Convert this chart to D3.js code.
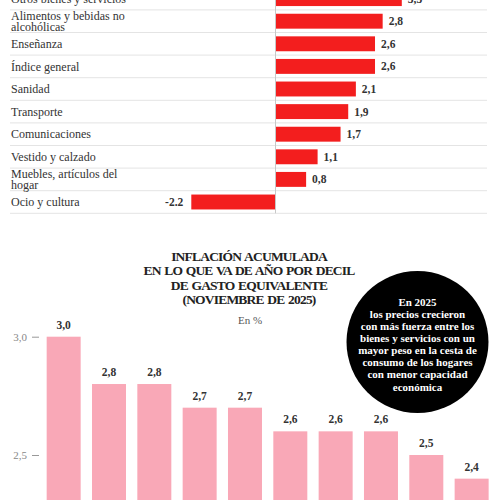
<!DOCTYPE html>
<meta charset="utf-8">
<script src="https://d3js.org/d3.v7.min.js"></script>
<style>
  body { margin: 0; background: #fff; }
  svg { display: block; font-family: "Liberation Serif", serif; }
</style>
<div id="chart"></div>
<script>

    // top chart: inflation by group (%)
    const groups = ["Otros bienes y servicios", "Alimentos y bebidas no\nalcohólicas", "Enseñanza", "Índice general",
                    "Sanidad", "Transporte", "Comunicaciones", "Vestido y calzado",
                    "Muebles, artículos del\nhogar", "Ocio y cultura"];
    const groupValues = [3.3, 2.8, 2.6, 2.6, 2.1, 1.9, 1.7, 1.1, 0.8, -2.2];
    const groupLabels = ["3,3", "2,8", "2,6", "2,6", "2,1", "1,9", "1,7", "1,1", "0,8", "-2.2"];

    // bottom chart: accumulated inflation by spending decile
    const deciles = ["1", "2", "3", "4", "5", "6", "7", "8", "9", "10"];
    const decileValues = [3.0, 2.8, 2.8, 2.7, 2.7, 2.6, 2.6, 2.6, 2.5, 2.4];
    const yTicks = [2.5, 3.0];

    const titleLines = ["INFLACIÓN ACUMULADA", "EN LO QUE VA DE AÑO POR DECIL", "DE GASTO EQUIVALENTE", "(NOVIEMBRE DE 2025)"];
    const noteLines = ["En 2025", "los precios crecieron", "con más fuerza entre los", "bienes y servicios con un",
                       "mayor peso en la cesta de", "consumo de los hogares", "con menor capacidad", "económica"];

    const width = 500, height = 500;
    const comma = d => d.toFixed(1).replace(".", ",");

    const svg = d3.select("#chart").append("svg")
        .attr("width", width)
        .attr("height", height);

    // ---- top chart ----
    const x = d3.scaleLinear().domain([-2.2, 3.3]).range([191.3, 401.8]);
    const y = d3.scaleBand().domain(groups).range([-12.7, 213.3]).paddingInner(0.34).paddingOuter(0.17);

    const topChart = svg.append("g");

    topChart.selectAll("line.sep")
        .data(groups)
        .enter().append("line")
        .attr("class", "sep")
        .attr("x1", 10).attr("x2", 487)
        .attr("y1", d => y(d) + y.step() * 0.83)
        .attr("y2", d => y(d) + y.step() * 0.83)
        .attr("stroke", "#e4e4e4");

    topChart.selectAll("rect")
        .data(groupValues)
        .enter().append("rect")
        .attr("x", d => x(Math.min(0, d)))
        .attr("y", (d, i) => y(groups[i]))
        .attr("width", d => Math.abs(x(d) - x(0)))
        .attr("height", y.bandwidth())
        .attr("fill", "#f31e1e");

    topChart.append("line")
        .attr("x1", x(0)).attr("x2", x(0))
        .attr("y1", 0).attr("y2", 213.3)
        .attr("stroke", "#c8c8c8");

    topChart.selectAll("text.name")
        .data(groups)
        .enter().append("text")
        .attr("class", "name")
        .attr("x", 11)
        .attr("y", d => y(d) + y.bandwidth() / 2)
        .attr("font-size", "12px")
        .attr("fill", "#333")
        .each(function (d) {
            const lines = d.split("\n");
            const t = d3.select(this);
            lines.forEach((line, k) => {
                t.append("tspan")
                    .attr("x", 11)
                    .attr("dy", k === 0 ? (0.35 - (lines.length - 1) * 0.45) + "em" : "0.9em")
                    .text(line);
            });
        });

    topChart.selectAll("text.val")
        .data(groupValues)
        .enter().append("text")
        .attr("class", "val")
        .attr("x", d => d < 0 ? x(d) - 8 : x(d) + 6)
        .attr("y", (d, i) => y(groups[i]) + y.bandwidth() / 2)
        .attr("dy", "0.35em")
        .attr("text-anchor", d => d < 0 ? "end" : "start")
        .attr("font-size", "11.5px")
        .attr("font-weight", "bold")
        .attr("fill", "#333")
        .text((d, i) => groupLabels[i]);

    // ---- bottom chart ----
    const xb = d3.scaleBand().domain(deciles).range([41.0, 494.3]).paddingInner(0.25).paddingOuter(0.125);
    const yb = d3.scaleLinear().domain([2.5, 3.0]).range([455, 336.7]);
    const base = 2.3;

    const bottom = svg.append("g");

    bottom.selectAll("text.title")
        .data(titleLines)
        .enter().append("text")
        .attr("class", "title")
        .attr("x", 249)
        .attr("y", (d, i) => 261 + i * 14.3)
        .attr("text-anchor", "middle")
        .attr("font-size", "13.5px")
        .attr("font-weight", "bold")
        .attr("letter-spacing", "-0.8px")
        .attr("word-spacing", "1px")
        .attr("fill", "#222")
        .text(d => d);

    bottom.append("text")
        .attr("x", 250).attr("y", 324)
        .attr("text-anchor", "middle")
        .attr("font-size", "11px")
        .attr("fill", "#555")
        .text("En %");

    bottom.selectAll("rect")
        .data(decileValues)
        .enter().append("rect")
        .attr("x", (d, i) => xb(deciles[i]))
        .attr("y", d => yb(d))
        .attr("width", xb.bandwidth())
        .attr("height", d => yb(base) - yb(d))
        .attr("fill", "#f9a8b7");

    bottom.selectAll("text.val")
        .data(decileValues)
        .enter().append("text")
        .attr("class", "val")
        .attr("x", (d, i) => xb(deciles[i]) + xb.bandwidth() / 2)
        .attr("y", d => yb(d) - 8)
        .attr("text-anchor", "middle")
        .attr("font-size", "11.5px")
        .attr("font-weight", "bold")
        .attr("fill", "#333")
        .text(d => comma(d));

    const axis = bottom.append("g")
        .attr("transform", "translate(39,0)")
        .call(d3.axisLeft(yb).tickValues(yTicks).tickSize(7).tickPadding(5).tickFormat(comma));
    axis.select(".domain").remove();
    axis.selectAll("line").attr("stroke", "#999");
    axis.selectAll("text")
        .attr("font-family", "Liberation Serif, serif")
        .attr("font-size", "11px")
        .attr("fill", "#888");

    // black note circle
    bottom.append("circle")
        .attr("cx", 417.5).attr("cy", 342).attr("r", 71)
        .attr("fill", "#000");

    bottom.selectAll("text.note")
        .data(noteLines)
        .enter().append("text")
        .attr("class", "note")
        .attr("x", 417.5)
        .attr("y", (d, i) => 305.5 + i * 12.15)
        .attr("text-anchor", "middle")
        .attr("font-size", "11px")
        .attr("font-weight", "bold")
        .attr("fill", "#fff")
        .text(d => d);

</script>
